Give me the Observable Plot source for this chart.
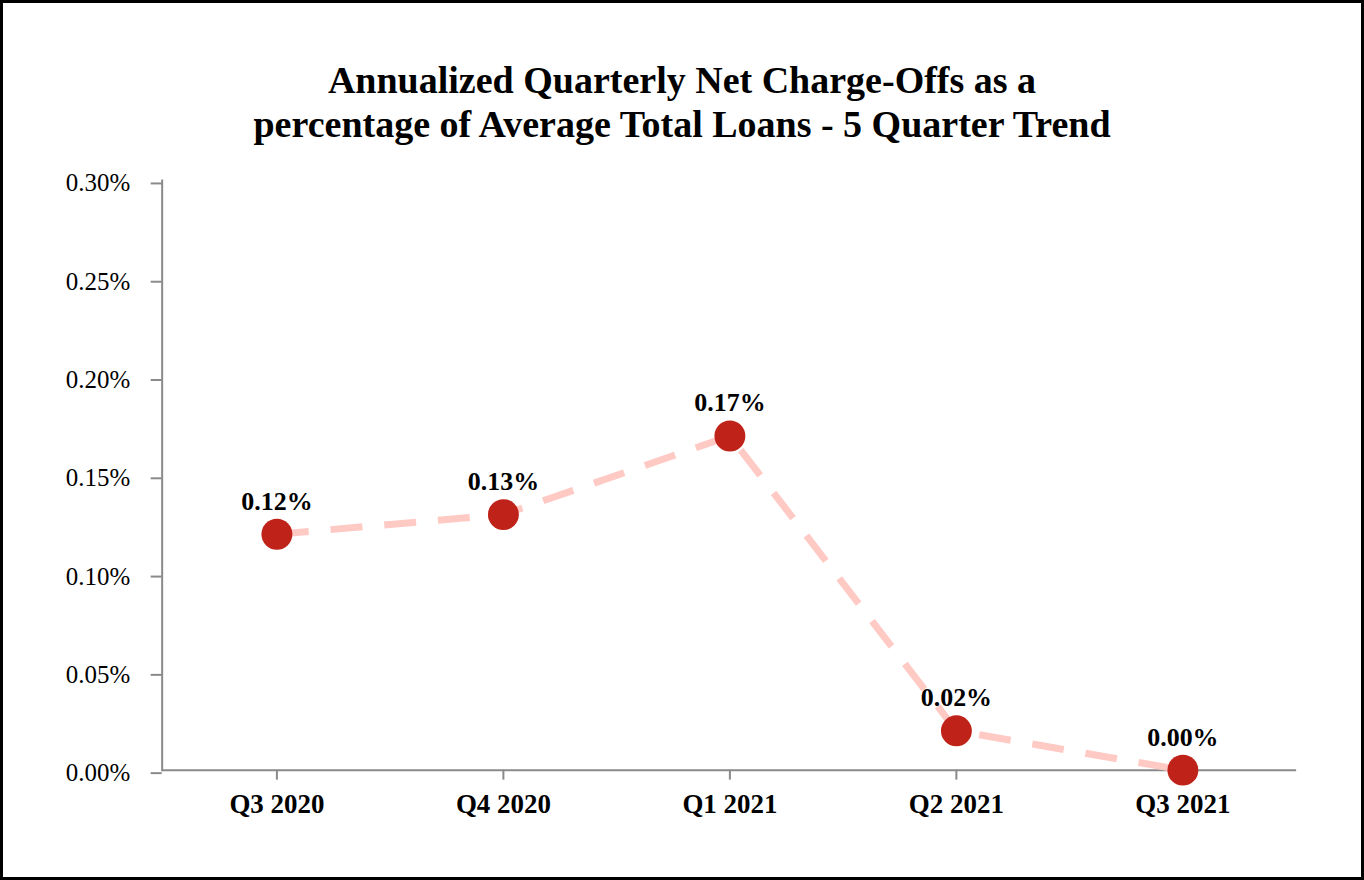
<!DOCTYPE html>
<html>
<head>
<meta charset="utf-8">
<script src="https://cdn.jsdelivr.net/npm/d3@7"></script>
<script src="https://cdn.jsdelivr.net/npm/@observablehq/plot@0.6"></script>
<style>
  html, body { margin: 0; padding: 0; background: #fff; }
  #wrap {
    position: relative; width: 1364px; height: 880px; box-sizing: border-box;
    border: 3px solid #000; background: #fff; overflow: hidden;
    font-family: "Liberation Serif", "Times New Roman", serif;
  }
  #title {
    position: absolute; left: 0; top: 55px; width: 1358px; margin: 0;
    text-align: center; font-size: 38px; line-height: 44px; font-weight: bold; color: #000;
  }
  #chart { position: absolute; left: -3px; top: 157px; }
</style>
</head>
<body>
<div id="wrap">
  <h1 id="title">Annualized Quarterly Net Charge-Offs as a<br>percentage of Average Total Loans - 5 Quarter Trend</h1>
  <div id="chart"></div>
</div>
<script>
const quarters = ["Q3 2020", "Q4 2020", "Q1 2021", "Q2 2021", "Q3 2021"];
const chargeOffs = [0.12, 0.13, 0.17, 0.02, 0.00];
const labels = ["0.12%", "0.13%", "0.17%", "0.02%", "0.00%"];
const yTicks = [0, 0.05, 0.10, 0.15, 0.20, 0.25, 0.30];

const data = quarters.map((q, i) => ({q, v: chargeOffs[i], label: labels[i]}));
const font = "'Liberation Serif', 'Times New Roman', serif";
const axisGray = "#8a8a8a";

const chart = Plot.plot({
  width: 1364,
  height: 700,
  marginTop: 20,
  marginBottom: 89,
  marginLeft: 162,
  marginRight: 65,
  style: {fontFamily: font, fontSize: "25px", color: "#000", background: "transparent"},
  x: {type: "point", domain: quarters, padding: 0.5, label: null},
  y: {domain: [0, 0.30], label: null},
  marks: [
    Plot.frame({anchor: "left", stroke: axisGray, strokeWidth: 2}),
    Plot.axisY({ticks: yTicks, tickFormat: d => d.toFixed(2) + "%", tickSize: 11, tickPadding: 21,
      stroke: axisGray, strokeWidth: 2, fill: "#000", fontSize: 25, dy: 3, label: null}),
    Plot.axisX({tickSize: 10, tickPadding: 14, stroke: axisGray, strokeWidth: 2, fill: "#000",
      fontSize: 27, fontWeight: "bold", label: null}),
    Plot.ruleY([0], {stroke: axisGray, strokeWidth: 2}),
    Plot.line(data, {x: "q", y: "v", stroke: "#ffc9c4", strokeWidth: 7, strokeDasharray: "32,22", strokeLinecap: "butt"}),
    Plot.dot(data, {x: "q", y: "v", r: 15.5, fill: "#bf2218", stroke: "none"}),
    Plot.text(data, {x: "q", y: "v", text: "label", dy: -33, fontSize: 26, fontWeight: "bold", fill: "#000"})
  ]
});
document.getElementById("chart").appendChild(chart);
</script>
</body>
</html>
